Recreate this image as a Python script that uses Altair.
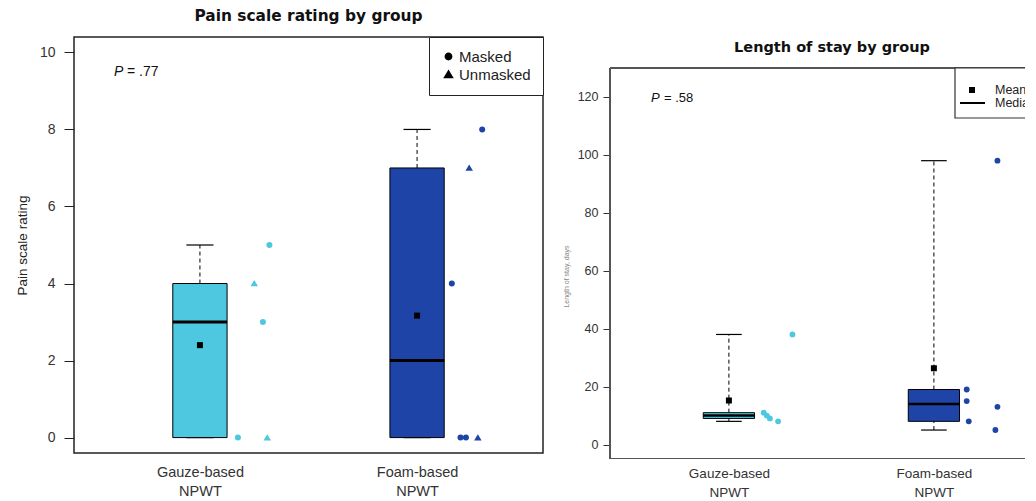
import altair as alt
import pandas as pd
import numpy as np

# ---------------- data ----------------
groups = ["Gauze-based NPWT", "Foam-based NPWT"]
group_pos = [1, 2]
group_colors = ["#4DC8E0", "#1F44A8"]

pain_gauze = [5, 4, 3, 0, 0]
pain_gauze_x = [1.32, 1.25, 1.29, 1.175, 1.31]
pain_gauze_mask = ["Masked", "Unmasked", "Masked", "Masked", "Unmasked"]
pain_foam = [8, 7, 4, 0, 0, 0]
pain_foam_x = [2.30, 2.24, 2.16, 2.20, 2.225, 2.28]
pain_foam_mask = ["Masked", "Unmasked", "Masked", "Masked", "Masked", "Unmasked"]

los_gauze = [38, 11, 10, 9, 8]
los_gauze_x = [1.31, 1.17, 1.185, 1.20, 1.24]
los_foam = [98, 19, 15, 13, 8, 5]
los_foam_x = [2.31, 2.16, 2.16, 2.31, 2.17, 2.30]

mask_levels = ["Masked", "Unmasked"]
mask_shapes = ["circle", "M0,-1.15L1.25,0.95L-1.25,0.95Z"]

pain_ticks = [0, 2, 4, 6, 8, 10]
los_ticks = [0, 20, 40, 60, 80, 100, 120]
pain_p = ".77"
los_p = ".58"
legend2_labels = ["Mean", "Median"]
titles = ["Pain scale rating by group", "Length of stay by group"]

FONT = "Liberation Sans"
TFONT = "DejaVu Sans"


def fivenum(v):
    x = np.sort(np.asarray(v, dtype=float))
    n = len(x)
    n4 = np.floor((n + 3) / 2) / 2
    d = np.array([1, n4, (n + 1) / 2, n + 1 - n4, n]) - 1
    return 0.5 * (x[np.floor(d).astype(int)] + x[np.ceil(d).astype(int)])


def stats_df(series):
    rows = []
    for g, p, vals in zip(groups, group_pos, series):
        lo, q1, med, q3, hi = fivenum(vals)
        rows.append(dict(group=g, pos=p, lo=lo, q1=q1, med=med, q3=q3, hi=hi,
                         mean=float(np.mean(vals)),
                         left=p - 0.125, right=p + 0.125,
                         capl=p - 0.0625, capr=p + 0.0625))
    return pd.DataFrame(rows)


def label_expr():
    parts = []
    for g, p in zip(groups, group_pos):
        a, b = g.split(" ")
        parts.append((p, f"['{a}', '{b}']"))
    return f"datum.value == {parts[0][0]} ? {parts[0][1]} : {parts[1][1]}"


color_scale = alt.Scale(domain=groups, range=group_colors)


def box_layers(stats, X, Y, median_w):
    col = alt.Color("group:N", scale=color_scale, legend=None)
    return [
        alt.Chart(stats).mark_rule(color="black", strokeWidth=1, strokeDash=[4, 3]).encode(
            x=X("pos"), y=Y("q3"), y2=alt.Y2("hi")),
        alt.Chart(stats).mark_rule(color="black", strokeWidth=1, strokeDash=[4, 3]).encode(
            x=X("pos"), y=Y("lo"), y2=alt.Y2("q1")),
        alt.Chart(stats).mark_rule(color="black", strokeWidth=1.2).encode(
            x=X("capl"), x2=alt.X2("capr"), y=Y("hi")),
        alt.Chart(stats).mark_rule(color="black", strokeWidth=1.2).encode(
            x=X("capl"), x2=alt.X2("capr"), y=Y("lo")),
        alt.Chart(stats).mark_rect(stroke="black", strokeWidth=1).encode(
            x=X("left"), x2=alt.X2("right"), y=Y("q1"), y2=alt.Y2("q3"), color=col),
        alt.Chart(stats).mark_rule(color="black", strokeWidth=median_w).encode(
            x=X("left"), x2=alt.X2("right"), y=Y("med")),
        alt.Chart(stats).mark_square(size=36, color="black", opacity=1).encode(
            x=X("pos"), y=Y("mean")),
    ]


one = pd.DataFrame({"k": [0]})

# ---------------- left panel: pain ----------------
W1, H1 = 469, 416
xs1 = alt.Scale(domain=[0.42, 2.58], nice=False, zero=False)
ys1 = alt.Scale(domain=[-0.4, 10.4], nice=False, zero=False)
xaxis1 = alt.Axis(values=group_pos, labelExpr=label_expr(), ticks=False, domain=False,
                  grid=False, labelPadding=12, labelFontSize=14.5, labelLineHeight=19,
                  labelColor="#333", labelFont=FONT)
yaxis1 = alt.Axis(values=pain_ticks, title="Pain scale rating", domain=False, grid=False,
                  tickSize=10, tickColor="#222", labelPadding=9, labelFontSize=14,
                  labelColor="#333", titleFontSize=13.5, titleFontWeight="normal",
                  titleColor="#222", titlePadding=10, labelFont=FONT, titleFont=FONT)


def X1(f):
    return alt.X(f, type="quantitative", scale=xs1, axis=xaxis1, title=None)


def Y1(f):
    return alt.Y(f, type="quantitative", scale=ys1, axis=yaxis1)


stats1 = stats_df([pain_gauze, pain_foam])
pts1 = pd.DataFrame({
    "group": [groups[0]] * len(pain_gauze) + [groups[1]] * len(pain_foam),
    "xj": pain_gauze_x + pain_foam_x,
    "val": pain_gauze + pain_foam,
    "mask": pain_gauze_mask + pain_foam_mask,
})

points1 = alt.Chart(pts1).mark_point(filled=True, size=36, opacity=1).encode(
    x=X1("xj"), y=Y1("val"),
    color=alt.Color("group:N", scale=color_scale, legend=None),
    shape=alt.Shape("mask:N", scale=alt.Scale(domain=mask_levels, range=mask_shapes),
                    legend=alt.Legend(title=None, orient="top-right", offset=0, padding=12,
                                      strokeColor="#222", fillColor="white",
                                      labelFontSize=15, labelColor="#222", labelFont=FONT,
                                      symbolSize=40, symbolFillColor="black",
                                      symbolStrokeColor="black", labelOffset=3,
                                      rowPadding=2)),
)

ptxt1 = alt.Chart(one).mark_text(align="left", baseline="middle", fontSize=14,
                                 fontStyle="italic", font=FONT, color="#111").encode(
    x=alt.value(40), y=alt.value(35), text=alt.value("P"))
ptxt1b = alt.Chart(one).mark_text(align="left", baseline="middle", fontSize=14,
                                  font=FONT, color="#111").encode(
    x=alt.value(53), y=alt.value(35), text=alt.value("= " + pain_p))

left = alt.layer(*box_layers(stats1, X1, Y1, 3), points1, ptxt1, ptxt1b).properties(
    width=W1, height=H1,
    title=alt.TitleParams(titles[0], fontSize=15.4, fontWeight="bold",
                          anchor="middle", frame="group", offset=12, color="#111", font=TFONT),
    view=alt.ViewBackground(stroke="#222", strokeWidth=1.5, strokeOpacity=1),
)

# ---------------- right panel: length of stay ----------------
EXT = 31                 # the right frame starts this many px below the left one
W2, H2 = 415, 422        # visible part of the (cropped) right panel
PX2 = 205.0              # px per group unit
PY2 = 391 / 135.0        # px per day
xs2 = alt.Scale(domain=[0.42, 0.42 + W2 / PX2], nice=False, zero=False)
ys2 = alt.Scale(domain=[-5, -5 + H2 / PY2], nice=False, zero=False)
xaxis2 = alt.Axis(values=group_pos, labelExpr=label_expr(), ticks=False, domain=False,
                  grid=False, labelPadding=7, labelFontSize=13.5, labelLineHeight=19,
                  labelColor="#333", labelFont=FONT)
yaxis2 = alt.Axis(values=los_ticks, title="Length of stay, days", domain=False, grid=False,
                  tickSize=7, tickColor="#333", labelPadding=5, labelFontSize=12.5,
                  labelColor="#333", titleFontSize=7, titleFontWeight="normal",
                  titleColor="#888", titlePadding=8, titleY=239, labelFont=FONT, titleFont=FONT)


def X2(f):
    return alt.X(f, type="quantitative", scale=xs2, axis=xaxis2, title=None)


def Y2(f):
    return alt.Y(f, type="quantitative", scale=ys2, axis=yaxis2)


stats2 = stats_df([los_gauze, los_foam])
pts2 = pd.DataFrame({
    "group": [groups[0]] * len(los_gauze) + [groups[1]] * len(los_foam),
    "xj": los_gauze_x + los_foam_x,
    "val": los_gauze + los_foam,
})
points2 = alt.Chart(pts2).mark_point(filled=True, size=34, opacity=1, shape="circle").encode(
    x=X2("xj"), y=Y2("val"),
    color=alt.Color("group:N", scale=color_scale, legend=None),
)

frame_col = "#555"
frame = [
    alt.Chart(one).mark_rule(color=frame_col, strokeWidth=2).encode(
        x=alt.value(0), y=alt.value(EXT), y2=alt.value(H2)),
    alt.Chart(one).mark_rule(color=frame_col, strokeWidth=2, clip=True).encode(
        x=alt.value(0), x2=alt.value(W2 + 20), y=alt.value(EXT)),
    alt.Chart(one).mark_rule(color=frame_col, strokeWidth=2, clip=True).encode(
        x=alt.value(0), x2=alt.value(W2 + 20), y=alt.value(H2)),
]

LX = 345
leg2 = [
    alt.Chart(one).mark_rect(fill="white", stroke="#333", strokeWidth=1.2, clip=True).encode(
        x=alt.value(LX), x2=alt.value(W2 + 40), y=alt.value(EXT), y2=alt.value(EXT + 50)),
    alt.Chart(one).mark_square(size=36, color="black", opacity=1, clip=True).encode(
        x=alt.value(LX + 17), y=alt.value(EXT + 22)),
    alt.Chart(one).mark_rule(color="black", strokeWidth=2, clip=True).encode(
        x=alt.value(LX + 5), x2=alt.value(LX + 30), y=alt.value(EXT + 35)),
    alt.Chart(one).mark_text(align="left", baseline="middle", fontSize=12.5, font=FONT,
                             color="#222", clip=True).encode(
        x=alt.value(LX + 40), y=alt.value(EXT + 22), text=alt.value(legend2_labels[0])),
    alt.Chart(one).mark_text(align="left", baseline="middle", fontSize=12.5, font=FONT,
                             color="#222", clip=True).encode(
        x=alt.value(LX + 40), y=alt.value(EXT + 35), text=alt.value(legend2_labels[1])),
]

ptxt2 = alt.Chart(one).mark_text(align="left", baseline="middle", fontSize=13,
                                 fontStyle="italic", font=FONT, color="#111").encode(
    x=alt.value(41), y=alt.value(EXT + 30), text=alt.value("P"))
ptxt2b = alt.Chart(one).mark_text(align="left", baseline="middle", fontSize=13,
                                  font=FONT, color="#111").encode(
    x=alt.value(54), y=alt.value(EXT + 30), text=alt.value("= " + los_p))

title2 = alt.Chart(one).mark_text(align="center", baseline="middle", fontSize=14.5,
                                  fontWeight="bold", font=TFONT, color="#111").encode(
    x=alt.value(222), y=alt.value(EXT - 20), text=alt.value(titles[1]))

right = alt.layer(*box_layers(stats2, X2, Y2, 2.5), points2, ptxt2, ptxt2b, title2,
                  *frame, *leg2).properties(width=W2, height=H2)

chart = alt.hconcat(left, right, spacing=17).resolve_scale(
    x="independent", y="independent", color="independent", shape="independent"
).properties(
    padding={"left": 6, "top": 0, "right": 0, "bottom": 0},
    background="white",
).configure(font=FONT).configure_view(strokeOpacity=0)

chart.save("out.html", embed_options={"renderer": "svg", "actions": False})
